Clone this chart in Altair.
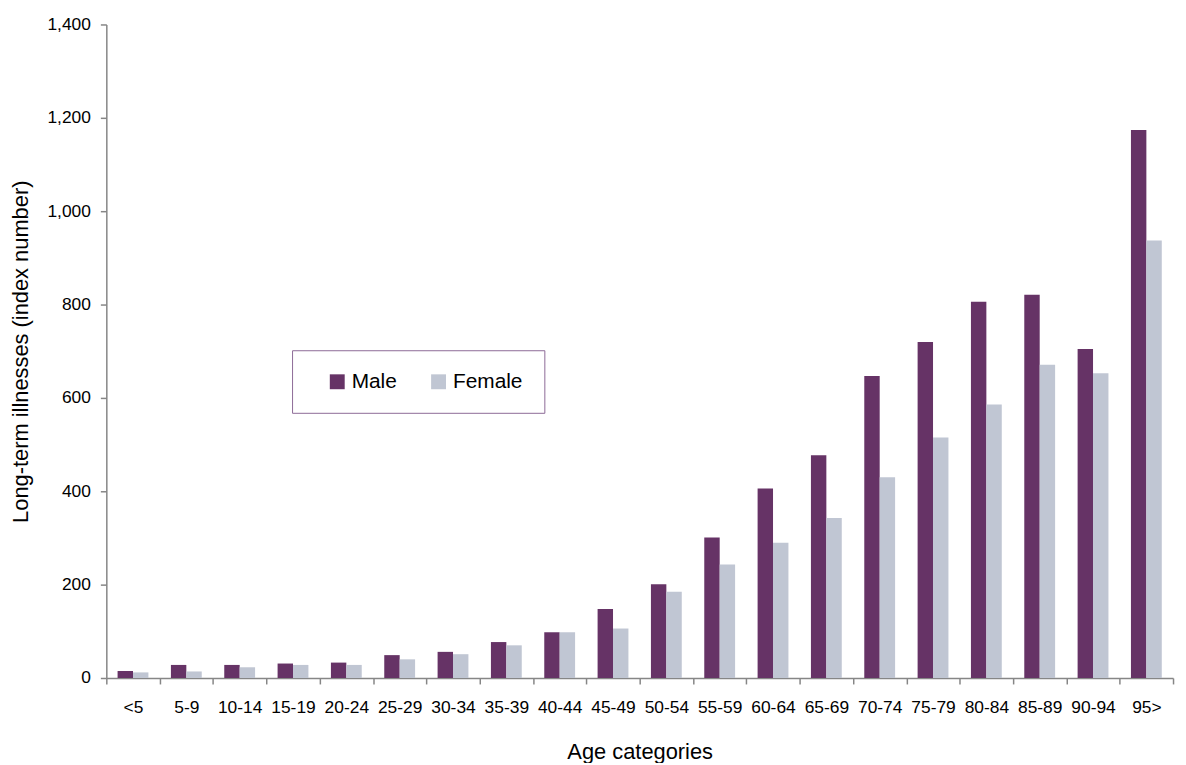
import altair as alt
import pandas as pd

categories = ["<5", "5-9", "10-14", "15-19", "20-24", "25-29", "30-34", "35-39",
              "40-44", "45-49", "50-54", "55-59", "60-64", "65-69", "70-74",
              "75-79", "80-84", "85-89", "90-94", "95>"]
male = [15, 28, 28, 31, 33, 49, 56, 77, 98, 148, 201, 301, 406, 477, 647,
        720, 806, 821, 705, 1174]
female = [12, 14, 23, 28, 28, 40, 51, 70, 98, 106, 185, 243, 290, 343, 430,
          515, 586, 671, 653, 937]
series = ["Male", "Female"]
colors = ["#663366", "#C0C6D3"]
y_ticks = [0, 200, 400, 600, 800, 1000, 1200, 1400]

rows = []
for i, c in enumerate(categories):
    rows.append({"age": c, "sex": "Male", "value": male[i]})
    rows.append({"age": c, "sex": "Female", "value": female[i]})
df = pd.DataFrame(rows)

FONT = "Liberation Sans"

chart = alt.Chart(df).mark_bar().encode(
    x=alt.X("age:N", sort=categories,
            scale=alt.Scale(paddingInner=0, paddingOuter=0),
            axis=alt.Axis(title="Age categories", labelAngle=0, tickBand="extent",
                          tickSize=6, labelPadding=15, labelFontSize=17.5,
                          titleFontSize=22, titleFontWeight="normal",
                          titlePadding=26)),
    xOffset=alt.XOffset("sex:N", sort=series,
                        scale=alt.Scale(paddingInner=0, paddingOuter=0.73)),
    y=alt.Y("value:Q",
            scale=alt.Scale(domain=[0, 1400], nice=False),
            axis=alt.Axis(title="Long-term illnesses (index number)", values=y_ticks,
                          format=",d", tickSize=6, labelPadding=10, labelFontSize=17.5,
                          titleFontSize=22, titleFontWeight="normal",
                          titlePadding=15)),
    color=alt.Color("sex:N", sort=series,
                    scale=alt.Scale(domain=series, range=colors),
                    title=None,
                    legend=alt.Legend(orient="none", legendX=187, legendY=328,
                                      direction="horizontal", symbolType="square",
                                      symbolSize=225, symbolStrokeWidth=0,
                                      symbolOffset=14,
                                      labelFontSize=21, labelFont=FONT,
                                      labelOffset=4, columnPadding=17,
                                      padding=21, strokeColor="#8c6a96",
                                      fillColor="white")),
).properties(
    width=1074,
    height=658,
    autosize=alt.AutoSizeParams(type="none"),
    padding={"left": 99, "top": 14, "right": 5, "bottom": 83},
).configure_view(
    stroke=None
).configure_axis(
    grid=False,
    domainColor="#868686",
    domainWidth=1.5,
    tickColor="#868686",
    tickWidth=1.5,
    labelColor="black",
    titleColor="black",
    labelFont=FONT,
    titleFont=FONT,
)

chart.save("out.html", embed_options={"renderer": "svg", "actions": False})
